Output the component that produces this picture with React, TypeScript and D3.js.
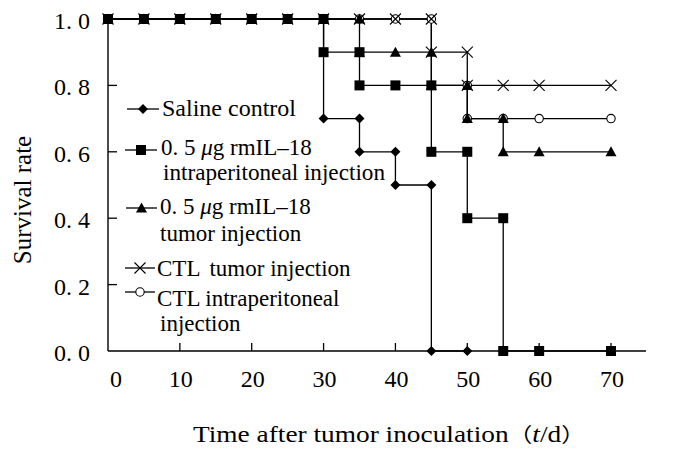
import React from "react";
import * as d3 from "d3";

type Pt = [number, number];

const salineControl: Pt[] = [[0,1],[5,1],[10,1],[15,1],[20,1],[25,1],[30,1],[30,0.7],[35,0.7],[35,0.6],[40,0.6],[40,0.5],[45,0.5],[45,0],[50,0]];
const rmIL18Ip: Pt[] = [[0,1],[5,1],[10,1],[15,1],[20,1],[25,1],[30,1],[30,0.9],[35,0.9],[35,0.8],[40,0.8],[45,0.8],[45,0.6],[50,0.6],[50,0.4],[55,0.4],[55,0],[60,0],[70,0]];
const rmIL18Tumor: Pt[] = [[0,1],[5,1],[10,1],[15,1],[20,1],[25,1],[30,1],[35,1],[35,0.9],[40,0.9],[45,0.9],[45,0.8],[50,0.8],[50,0.7],[55,0.7],[55,0.6],[60,0.6],[70,0.6]];
const ctlTumor: Pt[] = [[0,1],[5,1],[10,1],[15,1],[20,1],[25,1],[30,1],[35,1],[40,1],[45,1],[45,0.9],[50,0.9],[50,0.8],[55,0.8],[60,0.8],[70,0.8]];
const ctlIp: Pt[] = [[0,1],[5,1],[10,1],[15,1],[20,1],[25,1],[30,1],[35,1],[40,1],[45,1],[45,0.8],[50,0.8],[50,0.7],[55,0.7],[60,0.7],[70,0.7]];

const xTickValues = [0, 10, 20, 30, 40, 50, 60, 70];
const xTickLabels = ["0", "10", "20", "30", "40", "50", "60", "70"];
const yTickValues = [0, 0.2, 0.4, 0.6, 0.8, 1.0];
const yTickLabels = ["0. 0", "0. 2", "0. 4", "0. 6", "0. 8", "1. 0"];

const xTitle = "Time after tumor inoculation";
const yTitle = "Survival rate";

type Shape = "diamond" | "square" | "triangle" | "x" | "circle";

const FONT = "'Liberation Serif', 'Times New Roman', serif";

function Marker({ shape, cx, cy }: { shape: Shape; cx: number; cy: number }) {
  const t = `translate(${cx},${cy})`;
  if (shape === "square") return <rect x={cx - 5} y={cy - 5} width={10} height={10} fill="#000" />;
  if (shape === "diamond") return <path transform={t} d="M0,-5L5,0L0,5L-5,0Z" fill="#000" />;
  if (shape === "triangle") return <path transform={t} d="M0,-5.5L5.5,4.5L-5.5,4.5Z" fill="#000" />;
  if (shape === "circle") return <circle cx={cx} cy={cy} r={4.2} fill="#fff" stroke="#000" strokeWidth={1.1} />;
  return <path transform={t} d="M-5.5,-5.5L5.5,5.5M-5.5,5.5L5.5,-5.5" stroke="#000" strokeWidth={1.1} fill="none" />;
}

export default function App() {
  const x = d3.scaleLinear().domain([0, 70]).range([108, 611]);
  const y = d3.scaleLinear().domain([0, 1]).range([351, 19]);
  const line = d3.line<Pt>().x((d) => x(d[0])).y((d) => y(d[1]));

  const series: { data: Pt[]; shape: Shape }[] = [
    { data: ctlIp, shape: "circle" },
    { data: rmIL18Tumor, shape: "triangle" },
    { data: salineControl, shape: "diamond" },
    { data: rmIL18Ip, shape: "square" },
    { data: ctlTumor, shape: "x" },
  ];

  const legendSym = (shape: Shape, cy: number, x0: number, x1: number) => (
    <g>
      <line x1={x0} x2={x1} y1={cy} y2={cy} stroke="#000" strokeWidth={1.3} />
      <Marker shape={shape} cx={(x0 + x1) / 2} cy={cy} />
    </g>
  );

  return (
    <svg width={700} height={450} style={{ position: "absolute", left: 0, top: 0, background: "#fff" }} fontFamily={FONT}>
      <rect width={700} height={450} fill="#fff" />
      {/* axes */}
      <line x1={108} x2={646} y1={y(0)} y2={y(0)} stroke="#000" strokeWidth={1.4} />
      <line x1={108} x2={108} y1={y(0)} y2={14} stroke="#000" strokeWidth={1.4} />
      {xTickValues.filter((v) => v > 0).map((v) => (
        <line key={v} x1={x(v)} x2={x(v)} y1={y(0)} y2={y(0) - 8} stroke="#000" strokeWidth={1.3} />
      ))}
      {yTickValues.filter((v) => v > 0).map((v) => (
        <line key={v} x1={108} x2={117} y1={y(v)} y2={y(v)} stroke="#000" strokeWidth={1.3} />
      ))}
      {xTickValues.map((v, i) => (
        <text key={v} x={x(v) + (v === 0 ? 8 : 1)} y={387} fontSize={24} textAnchor="middle" fill="#000">
          {xTickLabels[i]}
        </text>
      ))}
      {yTickValues.map((v, i) => (
        <text key={v} x={90} y={y(v) + 10} fontSize={24} textAnchor="end" fill="#000" xmlSpace="preserve" style={{ whiteSpace: "pre" }}>
          {yTickLabels[i]}
        </text>
      ))}
      <text x={193} y={442} fontSize={23} fill="#000" textLength={392} lengthAdjust="spacingAndGlyphs">
        {xTitle}
        <tspan fontFamily="'Noto Sans CJK SC', serif" fontSize={20}>（</tspan>
        <tspan fontStyle="italic">t</tspan>/d
        <tspan fontFamily="'Noto Sans CJK SC', serif" fontSize={20}>）</tspan>
      </text>
      <text transform="translate(31,200) rotate(-90)" fontSize={25} textAnchor="middle" fill="#000">
        {yTitle}
      </text>

      {/* series lines */}
      {series.map((s, i) => (
        <path key={i} d={line(s.data) || ""} fill="none" stroke="#000" strokeWidth={1.3} />
      ))}
      {series.map((s, i) => (
        <g key={i}>
          {s.data.map((d, j) => (
            <Marker key={j} shape={s.shape} cx={x(d[0])} cy={y(d[1])} />
          ))}
        </g>
      ))}

      {/* legend */}
      <g fill="#000" fontSize={23}>
        {legendSym("diamond", 109, 127, 159)}
        <text x={162} y={116} fontSize={24}>Saline control</text>
        {legendSym("square", 150, 125, 157)}
        <text x={161} y={154.5} xmlSpace="preserve">0. 5 <tspan fontStyle="italic">μ</tspan>g rmIL–18</text>
        <text x={163} y={179.5} textLength={222} lengthAdjust="spacingAndGlyphs">intraperitoneal injection</text>
        {legendSym("triangle", 208, 126, 157)}
        <text x={160} y={214} xmlSpace="preserve">0. 5 <tspan fontStyle="italic">μ</tspan>g rmIL–18</text>
        <text x={160} y={241}>tumor injection</text>
        {legendSym("x", 268, 125, 155)}
        <text x={157} y={276}>CTL<tspan dx={9}>tumor injection</tspan></text>
        {legendSym("circle", 292, 125, 155)}
        <text x={157} y={306}>CTL intraperitoneal</text>
        <text x={160} y={331}>injection</text>
      </g>
    </svg>
  );
}
